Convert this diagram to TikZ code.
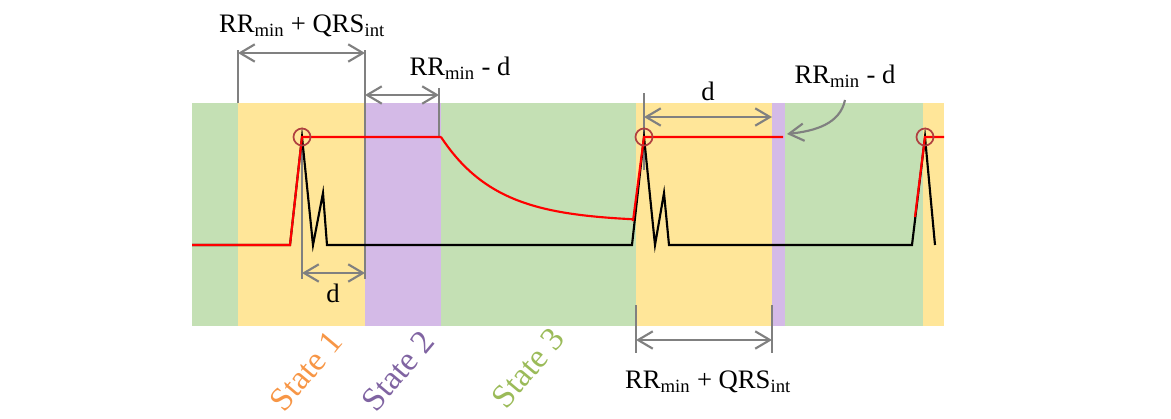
\documentclass[tikz,border=0pt]{standalone}
\usepackage{fontspec}
\setmainfont{Liberation Serif}
\usetikzlibrary{arrows.meta}

\definecolor{bandgreen}{RGB}{196,224,180}
\definecolor{bandyellow}{RGB}{255,230,153}
\definecolor{bandpurple}{RGB}{212,186,231}
\definecolor{dimgray}{RGB}{128,128,128}
\definecolor{peakred}{RGB}{176,64,64}
\definecolor{stateorange}{RGB}{247,150,70}
\definecolor{statepurple}{RGB}{128,100,162}
\definecolor{stategreen}{RGB}{155,187,89}

\begin{document}
\begin{tikzpicture}[x=0.75pt, y=-0.75pt,
  dimline/.style={draw=dimgray, line width=1.6pt},
  dimarrow/.style={dimline, {Straight Barb[length=11pt,width=13pt]}-{Straight Barb[length=11pt,width=13pt]}},
  ecg/.style={line width=1.6pt, line join=miter},
  lbl/.style={font=\fontsize{20}{22}\selectfont, anchor=base, inner sep=0pt},
  statelbl/.style={font=\fontsize{25}{27}\selectfont, rotate=50, inner sep=0pt}]
  \useasboundingbox (0,0) rectangle (1171,418);

  % State bands
  \fill[bandgreen] (192,103) rectangle (238,326);
  \fill[bandyellow] (238,103) rectangle (365,326);
  \fill[bandpurple] (365,103) rectangle (441,326);
  \fill[bandgreen] (441,103) rectangle (636,326);
  \fill[bandyellow] (636,103) rectangle (772,326);
  \fill[bandpurple] (772,103) rectangle (785,326);
  \fill[bandgreen] (785,103) rectangle (923,326);
  \fill[bandyellow] (923,103) rectangle (944,326);

  % Key points
  \coordinate (p1) at (302,137);
  \coordinate (p2) at (644,137);
  \coordinate (p3) at (925,137);
  \coordinate (hold1) at (441,137);
  \coordinate (hold2) at (783,137);

  % Extension lines
  \draw[dimline] (238,50) -- (238,103);
  \draw[dimline] (365,50) -- (365,279);
  \draw[dimline] (302,140) -- (302,279);
  \draw[dimline] (439,88) -- (439,137);
  \draw[dimline] (644,93) -- (644,170);
  \draw[dimline] (636,305) -- (636,353);
  \draw[dimline] (772,305) -- (772,353);

  % Dimension arrows
  \draw[dimarrow] (238,53) -- (365,53);
  \draw[dimarrow] (365,95) -- (439,95);
  \draw[dimarrow] (302,273) -- (365,273);
  \draw[dimarrow] (644,117) -- (772,117);
  \draw[dimarrow] (636,340) -- (772,340);

  % ECG signal (black)
  \draw[ecg, black] (192,245) -- (290,245) -- (p1) -- (313,245) -- (323,193) -- (327,245)
    -- (632,245) -- (p2) -- (655,245) -- (664,193) -- (669,245)
    -- (912,245) -- (p3) -- (935,245);

  % Threshold (red)
  \draw[ecg, red] (192,245) -- (290,245) -- (p1) -- (hold1)
    plot[domain=0:192, samples=60] ({441+\x},{222-85*exp(-\x/56)})
    -- (633,221) -- (p2) -- (hold2);
  \draw[ecg, red] (915,217) -- (p3) -- (944,137);

  % Peak markers
  \foreach \p in {p1,p2,p3}
    \draw[peakred, line width=1.3pt] (\p) circle (8.5);

  % Labels
  \node[lbl] (rrqrs1) at (302,32) {RR\textsubscript{min} + QRS\textsubscript{int}};
  \node[lbl] (rrd1) at (460,75) {RR\textsubscript{min} - d};
  \node[lbl] (d1) at (333,302) {d};
  \node[lbl] (d2) at (708,100) {d};
  \node[lbl] (rrd2) at (845,83) {RR\textsubscript{min} - d};
  \node[lbl] (rrqrs2) at (708,388) {RR\textsubscript{min} + QRS\textsubscript{int}};

  % Pointer to the short purple band
  \coordinate (ptr) at (787,134);
  \draw[dimline, -{Straight Barb[length=11pt,width=13pt]}] (845,100) .. controls (840,124) and (815,131) .. (ptr);

  % State names
  \node[statelbl, stateorange] (s1) at (306,371) {State 1};
  \node[statelbl, statepurple] (s2) at (398,371) {State 2};
  \node[statelbl, stategreen] (s3) at (528,368) {State 3};
\end{tikzpicture}
\end{document}
